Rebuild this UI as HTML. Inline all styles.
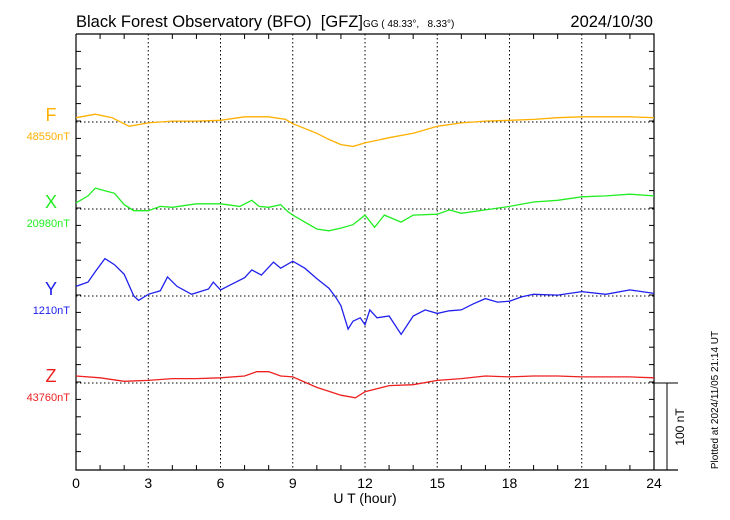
<!DOCTYPE html>
<html><head><meta charset="utf-8"><style>
body{margin:0;background:#fff}
svg{display:block;font-family:"Liberation Sans",sans-serif}
</style></head><body>
<svg id="c" width="730" height="520" viewBox="0 0 730 520">
<text x="76" y="27" font-size="16.5">Black Forest Observatory (BFO)&#160;&#160;[GFZ]<tspan font-size="10">GG ( 48.33°,&#160;&#160;&#160;8.33°)</tspan></text>
<text x="653" y="27" font-size="16.5" text-anchor="end">2024/10/30</text>
<g id="grid"></g>
<g id="axes"></g>
<g id="series"></g>
<text x="365" y="503" font-size="14" text-anchor="middle">U T (hour)</text>
<text transform="translate(684,427) rotate(-90)" font-size="12" text-anchor="middle">100 nT</text>
<text transform="translate(718,400) rotate(-90)" font-size="10" text-anchor="middle">Plotted at 2024/11/05 21:14 UT</text>
</svg>
<script>
const fTimes=[0,0.8,1.5,2.2,3,4,5,6,7,8,8.7,9,10,10.5,11,11.5,12,13,14,15,16,17,18,19,20,21,22,23,24];
const fValues=[5,9,5,-5,-1,1,1,2,6,6,3,-2,-13,-20,-26,-28,-24,-18,-13,-5,-1,1,2,3,5,6,6,6,5];
const xTimes=[0,0.5,0.8,1.2,1.6,2,2.4,3,3.5,4,5,6,6.8,7.3,7.6,8,8.5,8.8,9,9.5,10,10.5,11,11.5,12,12.4,12.8,13.5,14,15,15.5,16,17,18,19,20,21,22,23,24];
const xValues=[7,15,24,21,18,5,-2,-2,3,2,6,6,3,10,3,2,5,-3,-7,-15,-23,-25,-22,-18,-7,-21,-7,-15,-7,-6,-1,-5,-1,3,8,10,14,15,17,15];
const yTimes=[0,0.5,0.8,1.2,1.6,2,2.4,2.6,3,3.5,3.8,4.2,4.8,5.5,5.7,6,6.5,7,7.3,7.7,8.2,8.5,9,9.5,10,10.5,10.8,11,11.3,11.5,11.8,12,12.2,12.5,13,13.5,14,14.5,15,15.5,16,16.5,17,17.5,18,18.5,19,20,21,22,23,24];
const yValues=[11,16,28,43,36,25,0,-5,2,6,22,11,2,8,16,7,14,21,30,24,39,32,40,32,20,9,-2,-11,-38,-29,-25,-33,-16,-25,-23,-44,-23,-16,-20,-17,-16,-9,-3,-7,-6,-1,2,1,5,2,7,3];
const zTimes=[0,1,2,3,4,5,6,7,7.5,8,8.5,9,10,11,11.6,12,13,14,15,16,17,18,19,20,21,22,23,24];
const zValues=[8,6,2,3,5,5,6,8,13,13,8,7,-5,-14,-17,-10,-3,-2,3,5,8,7,8,8,7,7,7,6];
const seriesNames=["F","X","Y","Z"];
const baseLabels=["48550nT","20980nT","1210nT","43760nT"];
const xTickLabels=["0","3","6","9","12","15","18","21","24"];

const NS="http://www.w3.org/2000/svg";
const L=76,R=654,T=34,B=470;
const pxPerNT=0.87;
const bases=[122,209,296,383];
const colors=["#ffb000","#22ee22","#2020ee","#ee2020"];
function xs(h){return L+(R-L)*h/24;}
function ys(i,v){return bases[i]-v*pxPerNT;}
function mk(tag,attrs,parent){const e=document.createElementNS(NS,tag);for(const k in attrs)e.setAttribute(k,attrs[k]);parent.appendChild(e);return e;}
const grid=document.getElementById('grid'),axes=document.getElementById('axes'),ser=document.getElementById('series');
for(let h=3;h<24;h+=3){const l=mk('line',{x1:xs(h),x2:xs(h),y1:T,y2:B,stroke:'#000','stroke-width':1,'stroke-dasharray':'1.5,2.5'},grid);

}
bases.forEach((b,i)=>{const l=mk('line',{x1:L,x2:R,y1:b,y2:b,stroke:'#000','stroke-width':1,'stroke-dasharray':'1.5,2.5'},grid);

});
const fr=mk('path',{d:`M${L},${T}H${R}V${B}M${L},${T}V${B}H678`,stroke:'#000',fill:'none','stroke-width':1.2},axes);


for(let h=0;h<=24;h++){const x=xs(h);const len=h%3==0?0:5;
if(len){mk('line',{x1:x,x2:x,y1:B,y2:B-len,stroke:'#000'},axes);mk('line',{x1:x,x2:x,y1:T,y2:T+len,stroke:'#000'},axes);}}
for(let k=1;k<25;k++){const y=T+k*(87/5);if(y>=B)break;mk('line',{x1:L,x2:L+5,y1:y,y2:y,stroke:'#000'},axes);mk('line',{x1:R,x2:R-5,y1:y,y2:y,stroke:'#000'},axes);}
xTickLabels.forEach((t,i)=>{const tx=mk('text',{x:xs(i*3),y:488,'font-size':14,'text-anchor':'middle'},axes);tx.textContent=t;

});
const sb=mk('path',{d:`M${R},383H678M667,383V${B}`,stroke:'#000',fill:'none'},axes);


const data=[[fTimes,fValues],[xTimes,xValues],[yTimes,yValues],[zTimes,zValues]];
data.forEach((d,i)=>{const pts=d[0].map((t,j)=>xs(t).toFixed(1)+','+ys(i,d[1][j]).toFixed(1)).join(' ');
const p=mk('polyline',{points:pts,fill:'none',stroke:colors[i],'stroke-width':1.3},ser);


const n=mk('text',{x:51,y:bases[i]-1,'font-size':18,'text-anchor':'middle',fill:colors[i]},ser);n.textContent=seriesNames[i];


const bl=mk('text',{x:70,y:bases[i]+18,'font-size':11,'text-anchor':'end',fill:colors[i]},ser);bl.textContent=baseLabels[i];

});
</script>
</body></html>
